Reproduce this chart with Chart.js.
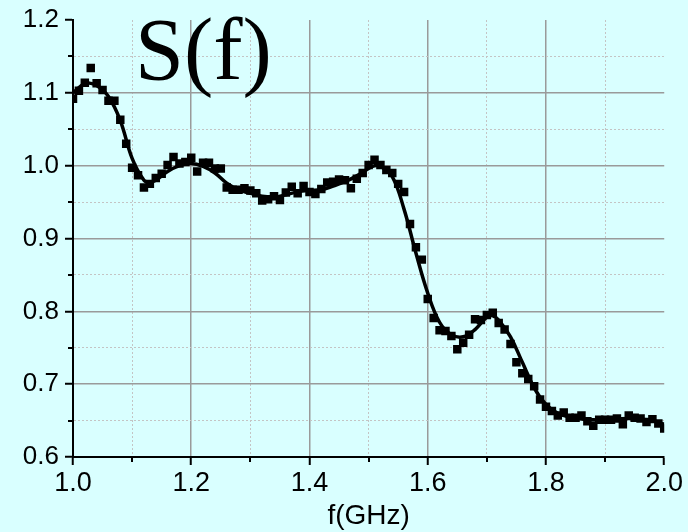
<!DOCTYPE html>
<html>
<head>
<meta charset="utf-8">
<script src="https://cdn.jsdelivr.net/npm/chart.js@4.4.0/dist/chart.umd.min.js"></script>
<style>
  html, body { margin: 0; padding: 0; background: #d9ffff; }
  #wrap { width: 688px; height: 532px; position: relative; }
</style>
</head>
<body>
<div id="wrap"><canvas id="c" width="688" height="532"></canvas></div>
<script>
// ---- data ----
const freqGHz = [
  1.00,1.01,1.02,1.03,1.04,1.05,1.06,1.07,1.08,1.09,
  1.10,1.11,1.12,1.13,1.14,1.15,1.16,1.17,1.18,1.19,
  1.20,1.21,1.22,1.23,1.24,1.25,1.26,1.27,1.28,1.29,
  1.30,1.31,1.32,1.33,1.34,1.35,1.36,1.37,1.38,1.39,
  1.40,1.41,1.42,1.43,1.44,1.45,1.46,1.47,1.48,1.49,
  1.50,1.51,1.52,1.53,1.54,1.55,1.56,1.57,1.58,1.59,
  1.60,1.61,1.62,1.63,1.64,1.65,1.66,1.67,1.68,1.69,
  1.70,1.71,1.72,1.73,1.74,1.75,1.76,1.77,1.78,1.79,
  1.80,1.81,1.82,1.83,1.84,1.85,1.86,1.87,1.88,1.89,
  1.90,1.91,1.92,1.93,1.94,1.95,1.96,1.97,1.98,1.99,
  2.00
];
const measuredS = [
  1.092,1.103,1.114,1.134,1.113,1.104,1.089,1.089,1.063,1.030,
  0.997,0.987,0.970,0.975,0.983,0.989,1.001,1.012,1.003,1.005,
  1.011,0.992,1.004,1.004,0.996,0.996,0.970,0.967,0.967,0.969,
  0.966,0.962,0.952,0.954,0.958,0.953,0.963,0.971,0.962,0.972,
  0.964,0.961,0.968,0.977,0.978,0.981,0.980,0.969,0.982,0.990,
  1.001,1.008,1.001,0.994,0.990,0.975,0.964,0.920,0.888,0.871,
  0.817,0.791,0.774,0.773,0.766,0.748,0.757,0.768,0.789,0.788,
  0.795,0.798,0.784,0.775,0.755,0.730,0.715,0.707,0.697,0.679,
  0.669,0.663,0.657,0.661,0.654,0.654,0.657,0.649,0.643,0.651,
  0.651,0.651,0.653,0.645,0.657,0.654,0.653,0.648,0.652,0.646,
  0.639
];
const fitFreq = [
  1.00,1.02,1.03,1.04,1.06,1.08,1.10,1.12,1.13,1.14,1.16,1.18,1.20,1.22,1.24,1.26,1.28,1.30,
  1.32,1.34,1.36,1.38,1.40,1.42,1.44,1.46,1.48,1.50,1.51,1.52,1.54,1.56,1.58,1.60,1.62,1.64,
  1.66,1.68,1.70,1.71,1.72,1.74,1.76,1.78,1.80,1.82,1.84,1.86,1.88,1.90,1.92,1.94,1.96,1.98,2.00
];
const fitS = [
  1.100,1.113,1.113,1.110,1.095,1.062,1.010,0.980,0.977,0.980,0.992,1.000,1.003,0.999,0.990,0.976,0.967,0.962,
  0.958,0.957,0.960,0.964,0.966,0.967,0.972,0.978,0.986,0.996,1.000,0.999,0.985,0.940,0.880,0.825,0.785,0.768,
  0.765,0.775,0.792,0.794,0.788,0.765,0.730,0.695,0.672,0.660,0.655,0.652,0.651,0.651,0.652,0.653,0.652,0.650,0.645
];
const xMajorTicks = [1.0, 1.2, 1.4, 1.6, 1.8, 2.0];
const xMinorTicks = [1.1, 1.3, 1.5, 1.7, 1.9];
const yMajorTicks = [0.6, 0.7, 0.8, 0.9, 1.0, 1.1, 1.2];
const yMinorTicks = [0.65, 0.75, 0.85, 0.95, 1.05, 1.15];
const xTickLabels = ['1.0', '1.2', '1.4', '1.6', '1.8', '2.0'];
const yTickLabels = ['0.6', '0.7', '0.8', '0.9', '1.0', '1.1', '1.2'];
const chartTitle = 'S(f)';
const xAxisTitle = 'f(GHz)';

// ---- helpers ----
const near = (a, b) => Math.abs(a - b) < 1e-6;
const idxIn = (arr, v) => arr.findIndex(t => near(t, v));

const points = freqGHz.map((f, i) => ({ x: f, y: measuredS[i] }));
const fitPts = fitFreq.map((f, i) => ({ x: f, y: fitS[i] }));

const BG = '#d9ffff';
const MAJOR_GRID = '#9a9a9a';
const MINOR_GRID = '#c4c4c4';

const bgPlugin = {
  id: 'bg',
  beforeDraw(chart) {
    const ctx = chart.ctx;
    ctx.save();
    ctx.fillStyle = BG;
    ctx.fillRect(0, 0, chart.width, chart.height);
    ctx.restore();
  }
};

const minorTickPlugin = {
  id: 'minorTicks',
  afterDraw(chart) {
    const ctx = chart.ctx;
    const xs = chart.scales.x, ys = chart.scales.y;
    const area = chart.chartArea;
    ctx.save();
    ctx.strokeStyle = '#000';
    ctx.lineWidth = 2;
    ctx.beginPath();
    xMinorTicks.forEach(v => {
      const px = Math.round(xs.getPixelForValue(v));
      ctx.moveTo(px, area.bottom);
      ctx.lineTo(px, area.bottom + 5);
    });
    yMinorTicks.forEach(v => {
      const py = Math.round(ys.getPixelForValue(v));
      ctx.moveTo(area.left, py);
      ctx.lineTo(area.left - 5, py);
    });
    ctx.stroke();
    // title text
    ctx.fillStyle = '#000';
    ctx.font = '88px "Liberation Serif", "Times New Roman", serif';
    ctx.textBaseline = 'alphabetic';
    ctx.textAlign = 'left';
    ctx.fillText(chartTitle, 135, 79);
    ctx.restore();
  }
};

function gridColor(majors, minors, hide) {
  return ctx => {
    const v = ctx.tick ? ctx.tick.value : null;
    if (v === null) return 'rgba(0,0,0,0)';
    if (hide.some(h => near(h, v))) return 'rgba(0,0,0,0)';
    if (idxIn(majors, v) >= 0) return MAJOR_GRID;
    return MINOR_GRID;
  };
}
function gridDash(majors) {
  return ctx => {
    const v = ctx.tick ? ctx.tick.value : null;
    if (v !== null && idxIn(majors, v) < 0) return [2, 2];
    return [];
  };
}
function tickColor(majors) {
  return ctx => {
    const v = ctx.tick ? ctx.tick.value : null;
    return (v !== null && idxIn(majors, v) >= 0) ? '#000' : 'rgba(0,0,0,0)';
  };
}

new Chart(document.getElementById('c'), {
  type: 'scatter',
  data: {
    datasets: [
      {
        type: 'line',
        label: 'fit',
        data: fitPts,
        borderColor: '#000',
        borderWidth: 3.5,
        pointRadius: 0,
        tension: 0.4,
        fill: false,
        order: 2
      },
      {
        type: 'scatter',
        label: 'S(f)',
        data: points,
        pointStyle: 'rect',
        pointRadius: 6,
        backgroundColor: '#000',
        borderColor: '#000',
        borderWidth: 0,
        order: 1
      }
    ]
  },
  options: {
    responsive: false,
    animation: false,
    devicePixelRatio: 1,
    layout: { padding: { top: 20, right: 23, left: 0, bottom: 0 } },
    plugins: {
      legend: { display: false },
      tooltip: { enabled: false },
      title: { display: false }
    },
    scales: {
      x: {
        type: 'linear',
        min: 1.0, max: 2.0,
        afterBuildTicks: s => {
          s.ticks = xMajorTicks.concat(xMinorTicks).sort((a, b) => a - b).map(v => ({ value: v }));
        },
        afterFit: s => { s.height = 75; },
        ticks: {
          autoSkip: false, maxRotation: 0, minRotation: 0,
          padding: 5,
          color: '#000',
          font: { family: '"Liberation Sans", Arial, sans-serif', size: 27, lineHeight: 1 },
          callback: v => { const i = idxIn(xMajorTicks, v); return i >= 0 ? xTickLabels[i] : ''; }
        },
        grid: {
          color: gridColor(xMajorTicks, xMinorTicks, [1.0, 2.0]),
          lineWidth: ctx => (ctx.tick && idxIn(xMajorTicks, ctx.tick.value) >= 0) ? 1.5 : 1,
          tickColor: tickColor(xMajorTicks),
          tickLength: 8,
          tickWidth: 2
        },
        border: { display: true, color: '#000', width: 2, dash: gridDash(xMajorTicks) },
        title: {
          display: true, text: xAxisTitle, color: '#000',
          font: { family: '"Liberation Sans", Arial, sans-serif', size: 28, lineHeight: 1 },
          padding: { top: 0, bottom: 2 }
        }
      },
      y: {
        type: 'linear',
        min: 0.6, max: 1.2,
        afterBuildTicks: s => {
          s.ticks = yMajorTicks.concat(yMinorTicks).sort((a, b) => a - b).map(v => ({ value: v }));
        },
        afterFit: s => { s.width = 73; },
        ticks: {
          autoSkip: false,
          padding: 6,
          color: '#000',
          font: { family: '"Liberation Sans", Arial, sans-serif', size: 26, lineHeight: 1 },
          callback: v => { const i = idxIn(yMajorTicks, v); return i >= 0 ? yTickLabels[i] : ''; }
        },
        grid: {
          color: gridColor(yMajorTicks, yMinorTicks, [0.6, 1.2]),
          lineWidth: ctx => (ctx.tick && idxIn(yMajorTicks, ctx.tick.value) >= 0) ? 1.5 : 1,
          tickColor: tickColor(yMajorTicks),
          tickLength: 8,
          tickWidth: 2
        },
        border: { display: true, color: '#000', width: 2, dash: gridDash(yMajorTicks) }
      }
    }
  },
  plugins: [bgPlugin, minorTickPlugin]
});
</script>
</body>
</html>
